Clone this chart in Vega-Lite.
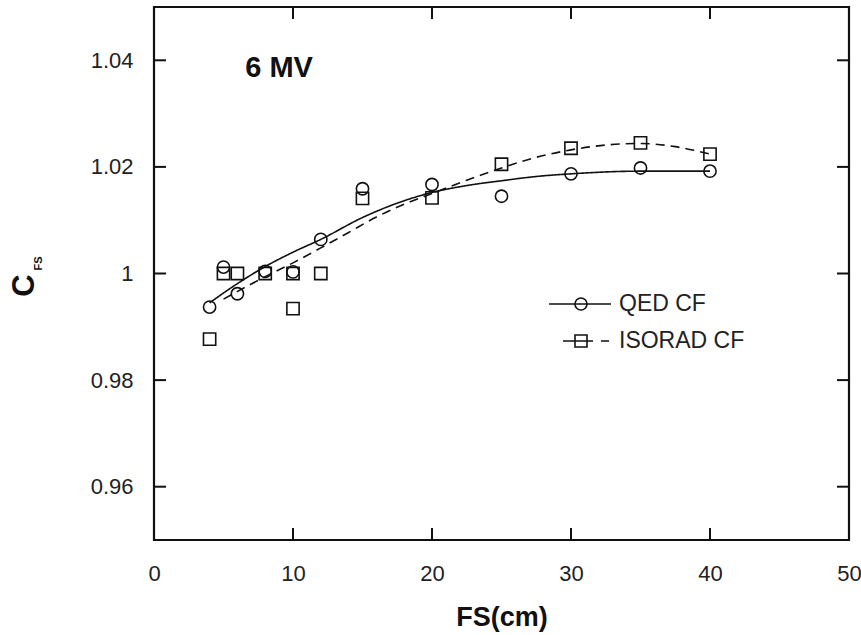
{
  "$schema": "https://vega.github.io/schema/vega-lite/v6.json",
  "autosize": {"type": "none"},
  "width": 695,
  "height": 533,
  "padding": {"left": 154, "top": 7, "right": 12, "bottom": 95},
  "background": "white",
  "config": {
    "view": {"stroke": "#111", "strokeWidth": 2.2},
    "font": "Liberation Sans",
    "axis": {"grid": false, "domain": false, "ticks": false, "labelColor": "#222", "labelFontSize": 22, "labelFont": "Liberation Sans"}
  },
  "datasets": {
    "points": [
      {"fs": 4, "cfs": 0.9937, "series": "QED CF"},
      {"fs": 5, "cfs": 1.0012, "series": "QED CF"},
      {"fs": 6, "cfs": 0.9962, "series": "QED CF"},
      {"fs": 8, "cfs": 1.0004, "series": "QED CF"},
      {"fs": 10, "cfs": 1.0003, "series": "QED CF"},
      {"fs": 12, "cfs": 1.0064, "series": "QED CF"},
      {"fs": 15, "cfs": 1.0159, "series": "QED CF"},
      {"fs": 20, "cfs": 1.0167, "series": "QED CF"},
      {"fs": 25, "cfs": 1.0145, "series": "QED CF"},
      {"fs": 30, "cfs": 1.0187, "series": "QED CF"},
      {"fs": 35, "cfs": 1.0198, "series": "QED CF"},
      {"fs": 40, "cfs": 1.0192, "series": "QED CF"},
      {"fs": 4, "cfs": 0.9877, "series": "ISORAD CF"},
      {"fs": 5, "cfs": 1.0, "series": "ISORAD CF"},
      {"fs": 6, "cfs": 1.0, "series": "ISORAD CF"},
      {"fs": 8, "cfs": 1.0, "series": "ISORAD CF"},
      {"fs": 10, "cfs": 1.0, "series": "ISORAD CF"},
      {"fs": 10, "cfs": 0.9934, "series": "ISORAD CF"},
      {"fs": 12, "cfs": 1.0, "series": "ISORAD CF"},
      {"fs": 15, "cfs": 1.0141, "series": "ISORAD CF"},
      {"fs": 20, "cfs": 1.0142, "series": "ISORAD CF"},
      {"fs": 25, "cfs": 1.0205, "series": "ISORAD CF"},
      {"fs": 30, "cfs": 1.0235, "series": "ISORAD CF"},
      {"fs": 35, "cfs": 1.0245, "series": "ISORAD CF"},
      {"fs": 40, "cfs": 1.0224, "series": "ISORAD CF"}
    ],
    "curves": [
      {"fs": 4, "cfs": 0.9945, "series": "QED CF"},
      {"fs": 6, "cfs": 0.9981, "series": "QED CF"},
      {"fs": 8, "cfs": 1.0013, "series": "QED CF"},
      {"fs": 10, "cfs": 1.004, "series": "QED CF"},
      {"fs": 12, "cfs": 1.0064, "series": "QED CF"},
      {"fs": 15, "cfs": 1.0105, "series": "QED CF"},
      {"fs": 17.5, "cfs": 1.0132, "series": "QED CF"},
      {"fs": 20, "cfs": 1.0152, "series": "QED CF"},
      {"fs": 22.5, "cfs": 1.0165, "series": "QED CF"},
      {"fs": 25, "cfs": 1.0174, "series": "QED CF"},
      {"fs": 27.5, "cfs": 1.0182, "series": "QED CF"},
      {"fs": 30, "cfs": 1.0187, "series": "QED CF"},
      {"fs": 35, "cfs": 1.0192, "series": "QED CF"},
      {"fs": 40, "cfs": 1.0192, "series": "QED CF"},
      {"fs": 5, "cfs": 0.9952, "series": "ISORAD CF"},
      {"fs": 8, "cfs": 0.9994, "series": "ISORAD CF"},
      {"fs": 10, "cfs": 1.002, "series": "ISORAD CF"},
      {"fs": 12, "cfs": 1.0048, "series": "ISORAD CF"},
      {"fs": 14, "cfs": 1.0077, "series": "ISORAD CF"},
      {"fs": 16, "cfs": 1.0106, "series": "ISORAD CF"},
      {"fs": 18, "cfs": 1.013, "series": "ISORAD CF"},
      {"fs": 20, "cfs": 1.015, "series": "ISORAD CF"},
      {"fs": 22.5, "cfs": 1.0175, "series": "ISORAD CF"},
      {"fs": 25, "cfs": 1.0198, "series": "ISORAD CF"},
      {"fs": 27.5, "cfs": 1.0218, "series": "ISORAD CF"},
      {"fs": 30, "cfs": 1.0232, "series": "ISORAD CF"},
      {"fs": 32.5, "cfs": 1.0241, "series": "ISORAD CF"},
      {"fs": 35, "cfs": 1.0244, "series": "ISORAD CF"},
      {"fs": 37.5, "cfs": 1.0238, "series": "ISORAD CF"},
      {"fs": 40, "cfs": 1.0224, "series": "ISORAD CF"}
    ],
    "xticks": [{"v": 10}, {"v": 20}, {"v": 30}, {"v": 40}],
    "yticks": [{"v": 0.96}, {"v": 0.98}, {"v": 1.0}, {"v": 1.02}, {"v": 1.04}],
    "note": [{"label": "6 MV"}]
  },
  "resolve": {"axis": {"x": "independent", "y": "independent"}, "scale": {"shape": "independent"}, "legend": {"shape": "independent"}},
  "layer": [
    {
      "data": {"name": "curves"},
      "mark": {"type": "line", "color": "#111", "strokeWidth": 1.6, "interpolate": "monotone"},
      "encoding": {
        "x": {"field": "fs", "type": "quantitative", "scale": {"domain": [0, 50], "nice": false},
          "axis": {"orient": "bottom", "values": [0, 10, 20, 30, 40, 50], "labelPadding": 23, "labelFlush": false, "title": "FS(cm)", "titleFontSize": 27, "titleFontWeight": "bold", "titleColor": "#111", "titlePadding": 20}},
        "y": {"field": "cfs", "type": "quantitative", "scale": {"domain": [0.95, 1.05], "nice": false, "zero": false},
          "axis": {"orient": "left", "values": [0.96, 0.98, 1, 1.02, 1.04], "format": ".2~f", "labelPadding": 21, "title": "C", "titleFontSize": 31, "titleFontWeight": "bold", "titleColor": "#111", "titleX": -130, "titleY": 278, "titleAngle": -90, "titleAlign": "center", "titleBaseline": "middle"}},
        "strokeDash": {"field": "series", "type": "nominal",
          "scale": {"domain": ["QED CF", "ISORAD CF"], "range": [[1, 0], [9, 6]]}, "legend": null}
      }
    },
    {
      "data": {"name": "points"},
      "mark": {"type": "point", "filled": false, "stroke": "#111", "strokeWidth": 1.6, "size": 150, "opacity": 1},
      "encoding": {
        "x": {"field": "fs", "type": "quantitative", "axis": null},
        "y": {"field": "cfs", "type": "quantitative",
          "axis": {"orient": "left", "labels": false, "title": "FS", "titleFontSize": 11, "titleFontWeight": "bold", "titleColor": "#111", "titleX": -116, "titleY": 256, "titleAngle": -90, "titleAlign": "center", "titleBaseline": "middle"}},
        "shape": {"field": "series", "type": "nominal", "scale": {"domain": ["QED CF", "ISORAD CF"], "range": ["circle", "square"]}, "legend": null}
      }
    },
    {
      "data": {"name": "points"},
      "mark": {"type": "point", "filled": false, "stroke": "#111", "opacity": 0},
      "encoding": {
        "x": {"field": "fs", "type": "quantitative", "axis": null},
        "y": {"field": "cfs", "type": "quantitative", "axis": null},
        "shape": {"field": "series", "type": "nominal",
          "scale": {"domain": ["QED CF", "ISORAD CF"], "range": ["M-2.13,0H2M0.4,0A0.4,0.4 0 1,1 -0.4,0A0.4,0.4 0 1,1 0.4,0", "M-1.2,0H0.8M-0.4,-0.4H0.4V0.4H-0.4ZM1.33,0H1.87"]},
          "legend": {"orient": "none", "legendX": 411, "legendY": 281, "title": null, "padding": 0,
            "symbolSize": 900, "symbolStrokeWidth": 1.6, "symbolStrokeColor": "#111", "symbolFillColor": "transparent", "symbolOpacity": 1,
            "labelOffset": 22, "rowPadding": 9, "labelFontSize": 23, "labelColor": "#222", "labelFont": "Liberation Sans", "labelLimit": 300}}
      }
    },
    {
      "data": {"name": "note"},
      "mark": {"type": "text", "fontSize": 29, "fontWeight": "bold", "color": "#111", "align": "center", "baseline": "middle"},
      "encoding": {
        "text": {"field": "label"},
        "x": {"datum": 9.0, "type": "quantitative", "axis": null},
        "y": {"datum": 1.0385, "type": "quantitative", "axis": null}
      }
    },
    {
      "data": {"name": "xticks"},
      "mark": {"type": "rule", "color": "#111", "strokeWidth": 2},
      "encoding": {
        "x": {"field": "v", "type": "quantitative", "axis": null},
        "y": {"datum": 0.95, "type": "quantitative", "axis": null},
        "y2": {"datum": 0.95225}
      }
    },
    {
      "data": {"name": "xticks"},
      "mark": {"type": "rule", "color": "#111", "strokeWidth": 2},
      "encoding": {
        "x": {"field": "v", "type": "quantitative", "axis": null},
        "y": {"datum": 1.05, "type": "quantitative", "axis": null},
        "y2": {"datum": 1.04775}
      }
    },
    {
      "data": {"name": "yticks"},
      "mark": {"type": "rule", "color": "#111", "strokeWidth": 2},
      "encoding": {
        "y": {"field": "v", "type": "quantitative", "axis": null},
        "x": {"datum": 0, "type": "quantitative", "axis": null},
        "x2": {"datum": 0.863}
      }
    },
    {
      "data": {"name": "yticks"},
      "mark": {"type": "rule", "color": "#111", "strokeWidth": 2},
      "encoding": {
        "y": {"field": "v", "type": "quantitative", "axis": null},
        "x": {"datum": 50, "type": "quantitative", "axis": null},
        "x2": {"datum": 49.137}
      }
    }
  ]
}
